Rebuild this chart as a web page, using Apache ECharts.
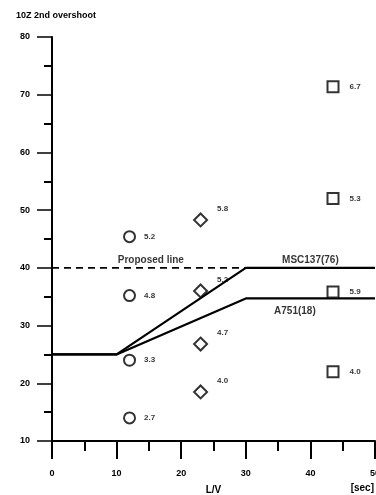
<!DOCTYPE html>
<html>
<head>
<meta charset="utf-8">
<script src="https://cdn.jsdelivr.net/npm/echarts@6/dist/echarts.min.js"></script>
<style>
  html, body { margin: 0; padding: 0; background: #fff; }
  #chart { width: 376px; height: 495px; }
</style>
</head>
<body>
<div id="chart"></div>
<script>
// 10Z 2nd overshoot against L/V, with the two criteria lines and the proposed line
const title = '10Z 2nd overshoot';
const xTicks = [0, 10, 20, 30, 40, 50];
const yTicks = [10, 20, 30, 40, 50, 60, 70, 80];

// measured overshoot points: [L/V, overshoot, annotation]
const circlePts = [[12, 45.4, '5.2'], [12, 35.2, '4.8'], [12, 24.0, '3.3'], [12, 14.0, '2.7']];
const diamondPts = [[23, 48.3, '5.8'], [23, 36.0, '5.2'], [23, 26.8, '4.7'], [23, 18.5, '4.0']];
const squarePts = [[43.5, 71.4, '6.7'], [43.5, 52.0, '5.3'], [43.5, 35.8, '5.9'], [43.5, 22.0, '4.0']];

// criteria lines
const msc137 = [[0, 25], [10, 25], [30, 40], [50, 40]];
const a751 = [[0, 25], [10, 25], [30, 34.7], [50, 34.7]];
const proposed = [[0, 40], [30, 40]];

// line captions: [x, y, text]
const captions = [[15.3, 41.3, 'Proposed line'], [40, 41.3, 'MSC137(76)'], [37.6, 32.4, 'A751(18)']];

const FONT = '"Liberation Sans", Arial, sans-serif';

const chart = echarts.init(document.getElementById('chart'), null, { renderer: 'canvas' });

function pointSeries(name, symbol, size, pts, labelPos) {
  return {
    name, type: 'scatter', symbol, symbolSize: size,
    data: pts.map(p => ({ value: [p[0], p[1]], label: { formatter: p[2] } })),
    itemStyle: { color: '#fff', borderColor: '#000', borderWidth: 2 },
    label: {
      show: true, position: labelPos.position, offset: labelPos.offset,
      color: '#000', fontSize: 8, fontWeight: 'bold', fontFamily: FONT
    },
    z: 5, silent: true
  };
}

const lineStyleSolid = { color: '#000', width: 2.2 };

const option = {
  animation: false,
  backgroundColor: '#fff',
  title: {
    text: title, left: 11, top: 6,
    textStyle: { fontSize: 9, fontWeight: 'bold', color: '#000', fontFamily: FONT }
  },
  grid: { left: 52, right: 1, top: 37, bottom: 54, containLabel: false, outerBoundsMode: 'none' },
  xAxis: {
    type: 'value', min: xTicks[0], max: xTicks[xTicks.length - 1], interval: 10,
    name: 'L/V', nameLocation: 'middle', nameGap: 44,
    nameTextStyle: { fontSize: 10, fontWeight: 'bold', color: '#000', fontFamily: FONT },
    axisLine: { show: true, lineStyle: { color: '#000', width: 2 } },
    axisTick: { show: true, inside: false, length: 18, lineStyle: { color: '#000', width: 2 } },
    minorTick: { show: true, splitNumber: 2, length: 10, lineStyle: { color: '#000', width: 2 } },
    axisLabel: {
      show: true, margin: 28, color: '#000', fontSize: 9, fontWeight: 'bold', fontFamily: FONT,
      showMaxLabel: true, hideOverlap: false
    },
    splitLine: { show: false }
  },
  yAxis: {
    type: 'value', min: yTicks[0], max: yTicks[yTicks.length - 1], interval: 10,
    axisLine: { show: true, lineStyle: { color: '#000', width: 2 } },
    axisTick: { show: true, inside: false, length: 15, lineStyle: { color: '#000', width: 1.5 } },
    minorTick: { show: true, splitNumber: 2, length: 8, lineStyle: { color: '#000', width: 2 } },
    axisLabel: { margin: 22, color: '#000', fontSize: 9, fontWeight: 'bold', fontFamily: FONT },
    splitLine: { show: false }
  },
  graphic: [{
    type: 'text', right: 2, bottom: 2,
    style: { text: '[sec]', fontSize: 10, fontWeight: 'bold', fill: '#000', font: 'bold 10px ' + FONT }
  }],
  series: [
    {
      name: 'Proposed line', type: 'line', data: proposed, symbol: 'none',
      lineStyle: { color: '#000', width: 1.6, type: [7, 5] }, z: 3, silent: true
    },
    { name: 'MSC137(76)', type: 'line', data: msc137, symbol: 'none', lineStyle: lineStyleSolid, z: 3, silent: true },
    { name: 'A751(18)', type: 'line', data: a751, symbol: 'none', lineStyle: lineStyleSolid, z: 3, silent: true },
    pointSeries('circles', 'circle', 11, circlePts, { position: 'right', offset: [3, 0] }),
    pointSeries('diamonds', 'diamond', 13, diamondPts, { position: 'right', offset: [4, -11] }),
    pointSeries('squares', 'rect', 11, squarePts, { position: 'right', offset: [5, 0] }),
    {
      name: 'captions', type: 'scatter', symbolSize: 0,
      data: captions.map(c => ({ value: [c[0], c[1]], label: { formatter: c[2] } })),
      label: {
        show: true, position: 'inside', color: '#000', fontSize: 10, fontWeight: 'bold', fontFamily: FONT
      },
      z: 6, silent: true
    }
  ]
};

chart.setOption(option);
</script>
</body>
</html>
